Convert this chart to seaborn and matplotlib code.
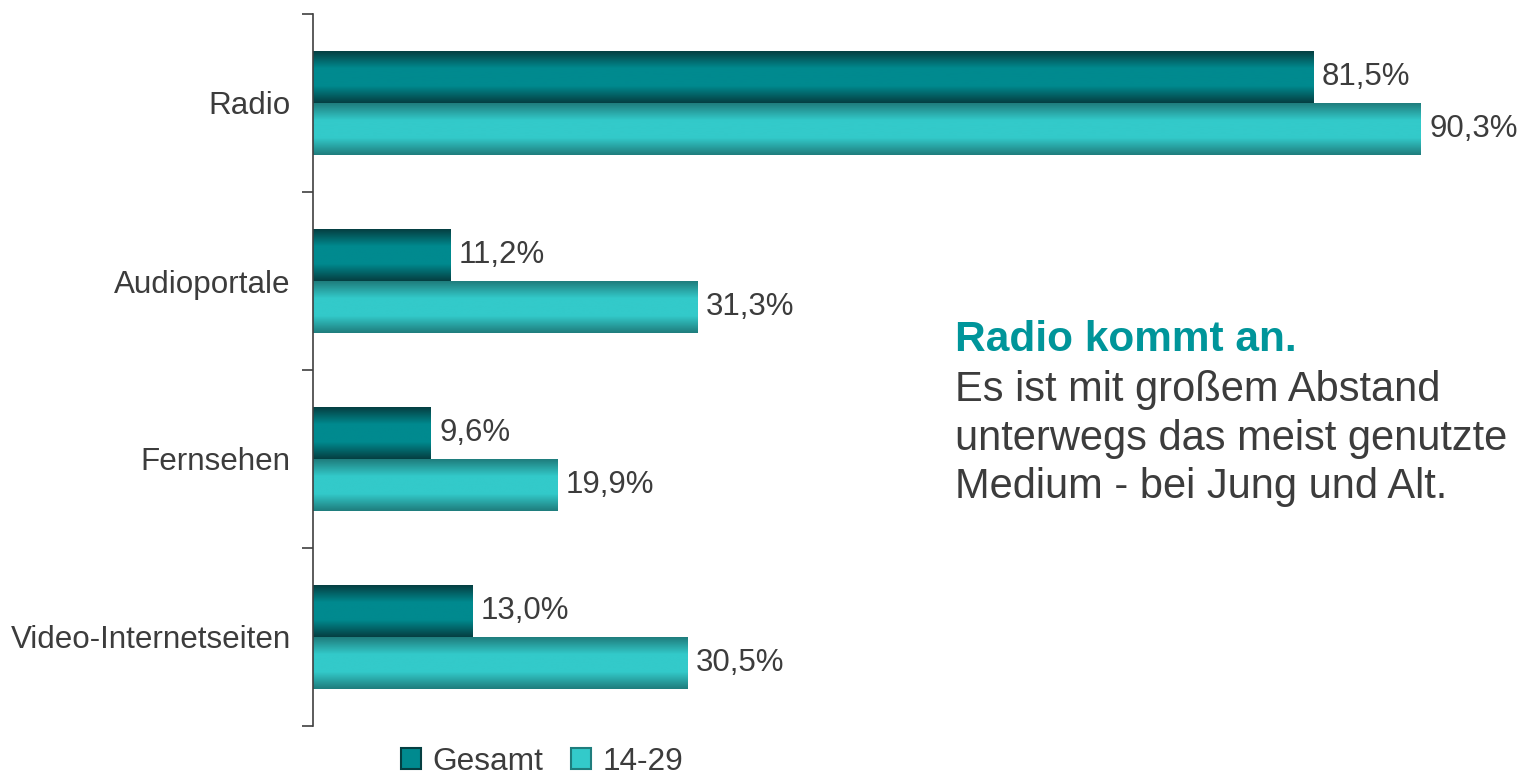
import numpy as np
import pandas as pd
import matplotlib
matplotlib.use("Agg")
import matplotlib.pyplot as plt
import seaborn as sns
from matplotlib.colors import LinearSegmentedColormap
from matplotlib.patches import Patch

categories = ["Radio", "Audioportale", "Fernsehen", "Video-Internetseiten"]
series_names = ["Gesamt", "14-29"]
gesamt = [81.5, 11.2, 9.6, 13.0]
jung = [90.3, 31.3, 19.9, 30.5]

sns.set_theme(style="white")
plt.rcParams['font.family'] = ['Liberation Sans', 'DejaVu Sans']

df = pd.DataFrame({
    "Medium": categories * 2,
    "Wert": gesamt + jung,
    "Gruppe": [series_names[0]] * len(categories) + [series_names[1]] * len(categories),
})

grad = {
    "Gesamt": ("#053f42", "#008a8f"),
    "14-29": ("#1f7d7d", "#33caca"),
}
mid_colors = {k: v[1] for k, v in grad.items()}

fig = plt.figure(figsize=(15.21, 7.74), dpi=100)
ax = fig.add_axes([313/1521, 1 - 726/774, 1 - 313/1521, (726 - 14)/774])

sns.barplot(data=df, y="Medium", x="Wert", hue="Gruppe", orient="h",
            palette=mid_colors, ax=ax, width=0.58, legend=False,
            saturation=1, edgecolor="none")

text_color = "#3c3c3c"
# gradient fill + value labels
for container, name in zip(ax.containers, series_names):
    edge, mid = grad[name]
    cmap = LinearSegmentedColormap.from_list(name, [edge, mid, mid, edge],)
    prof = np.concatenate([np.linspace(0, 0.5, 50), np.linspace(0.5, 1, 50)])
    for bar in container:
        x0, y0 = bar.get_x(), bar.get_y()
        w, h = bar.get_width(), bar.get_height()
        img = ax.imshow(prof.reshape(-1, 1), cmap=cmap, aspect="auto",
                        extent=(x0, x0 + w, y0 + h, y0), interpolation="bicubic",
                        zorder=bar.get_zorder() + 0.1)
        img.set_clip_path(bar)
        ax.text(x0 + w + 0.7, y0 + h / 2, f"{w:.1f}%".replace(".", ","),
                va="center", ha="left", fontsize=22.5, color=text_color)

ax.set_xlim(0, 98.45)
ax.set_ylim(3.5, -0.5)
ax.set_xlabel("")
ax.set_ylabel("")
ax.set_xticks([])
for s in ["top", "right", "bottom"]:
    ax.spines[s].set_visible(False)
ax.spines["left"].set_color("#404040")
ax.spines["left"].set_linewidth(1.2)
ax.set_yticks(range(len(categories)))
ax.set_yticklabels(categories, fontsize=22.6, color=text_color)
ax.set_yticks(np.arange(-0.5, len(categories), 1), minor=True)
ax.tick_params(axis="y", which="major", length=0, pad=16)
ax.tick_params(axis="y", which="minor", length=8, width=1.2, color="#404040", left=True)

handles = [Patch(facecolor=grad[n][1], edgecolor=grad[n][0], linewidth=1.5, label=n)
           for n in series_names]
fig.legend(handles=handles, loc="center", bbox_to_anchor=(542/1521, 1 - 762/774),
           ncol=2, frameon=False, fontsize=22.8, handlelength=0.65, handleheight=0.65,
           handletextpad=0.35, columnspacing=0.87, labelcolor=text_color)

fig.text(955/1521, 1 - 340/774, "Radio kommt an.", fontsize=30.5, fontweight="bold",
         color="#00959a", va="center", ha="left")
fig.text(955/1521, 1 - 370/774,
         "Es ist mit großem Abstand\nunterwegs das meist genutzte\nMedium - bei Jung und Alt.",
         fontsize=30, color=text_color, va="top", ha="left", linespacing=1.28)

fig.savefig("out.png", dpi=100)
